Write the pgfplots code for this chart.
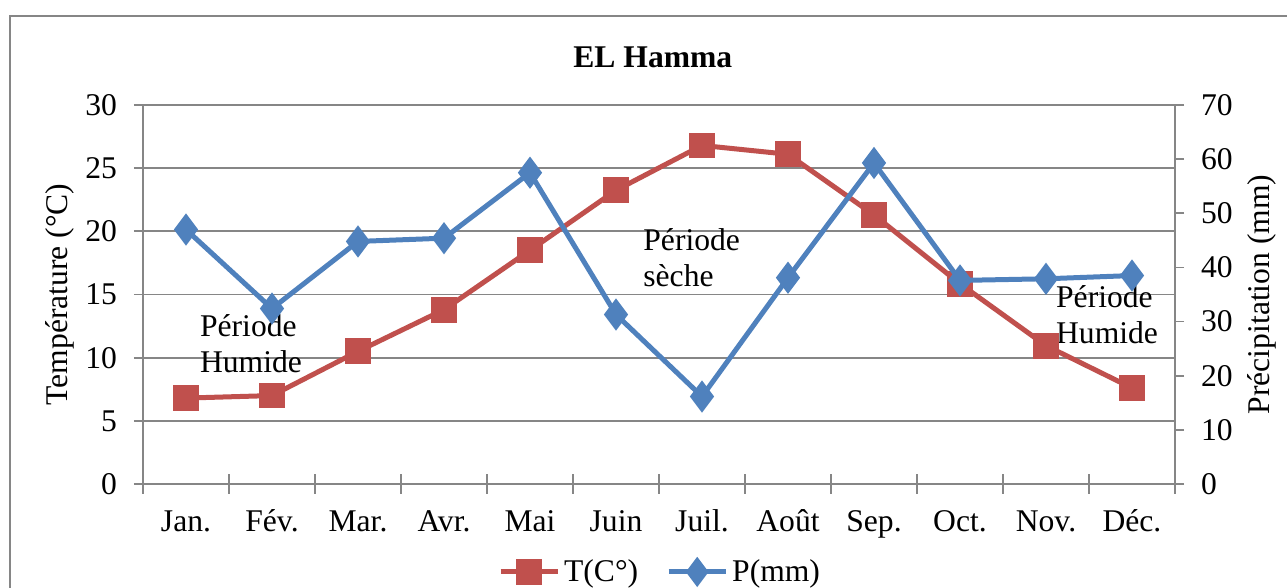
\documentclass[border=0pt]{standalone}
\usepackage{fontspec}
\setmainfont{Liberation Serif}
\usepackage{pgfplots}
\pgfplotsset{compat=1.18}
\definecolor{tred}{HTML}{C0504D}
\definecolor{pblue}{HTML}{4F81BD}
\definecolor{gridgray}{HTML}{868686}
\pgfplotsset{
  common/.style={
    at={(71.5pt,52pt)}, anchor=south west, scale only axis,
    width=516pt, height=189.5pt,
    xmin=-0.5, xmax=11.5, ymin=0,
    every tick label/.append style={font=\fontsize{15.8}{18}\selectfont},
    /pgf/number format/assume math mode=true,
    axis line style={gridgray, line width=0.9pt},
    every tick/.style={gridgray, line width=0.9pt},
  }
}
\begin{document}
\begin{tikzpicture}[x=1pt,y=1pt]
\useasboundingbox (0,0) rectangle (643.5,294);
\draw[gridgray, line width=1pt] (5,-10) rectangle (660,286);
\begin{axis}[common,
  ymax=30,
  axis x line*=bottom, axis y line*=left,
  xtick={0,...,11},
  xticklabels={Jan.,Fév.,Mar.,Avr.,Mai,Juin,Juil.,Août,Sep.,Oct.,Nov.,Déc.},
  xticklabel style={text height=11pt, text depth=3.5pt, yshift=-4.5pt},
  yticklabel style={xshift=-5pt},
  major x tick style={draw=none},
  minor xtick={-0.5,0.5,...,11.5},
  minor tick length=9.75pt,
  ytick={0,5,...,30},
  major tick length=9pt,
  tick align=center,
  ymajorgrids, grid style={gridgray, line width=0.9pt},
  ylabel={Température (°C)},
  every axis y label/.style={at={(axis description cs:-0.0804,0.5)}, rotate=90, anchor=center, font=\fontsize{15.8}{18}\selectfont},
  legend columns=2,
  legend style={draw=none, fill=none, at={(0.502,-0.232)}, anchor=center,
    font=\fontsize{15.8}{18}\selectfont,
    /tikz/every even column/.append style={column sep=12pt}},
  legend image code/.code={\draw[mark repeat=2,mark phase=2] plot coordinates {(0pt,0pt)(14.25pt,0pt)(28.5pt,0pt)};},
  clip=false,
]
\addplot[tred, line width=2.5pt, mark=square*, mark size=5.2pt, mark options={solid}]
  coordinates {(0,6.8)(1,7.0)(2,10.5)(3,13.8)(4,18.5)(5,23.25)(6,26.8)(7,26.1)(8,21.3)(9,15.85)(10,10.95)(11,7.6)};
\addlegendentry{T(C°)}
\addlegendimage{pblue, line width=2.5pt, mark=diamond*, mark size=5.5pt}
\addlegendentry{P(mm)}
\node[font=\fontsize{15.8}{18}\selectfont\bfseries] at (axis description cs:0.494,1.1266) {EL Hamma};
\node[font=\fontsize{15.8}{18}\selectfont, align=left] at (axis cs:0.756,11.1) {Période\\Humide};
\node[font=\fontsize{15.8}{18}\selectfont, align=left] at (axis cs:5.88,17.9) {Période\\sèche};
\node[font=\fontsize{15.8}{18}\selectfont, align=left] at (axis cs:10.71,13.4) {Période\\Humide};
\end{axis}
\begin{axis}[common,
  ymax=70,
  axis x line=none, axis y line*=right,
  ytick={0,10,...,70},
  yticklabel style={xshift=5pt},
  tick align=outside, major tick length=4.5pt,
  ylabel={Précipitation (mm)},
  every axis y label/.style={at={(axis description cs:1.0843,0.5)}, rotate=90, anchor=center, font=\fontsize{15.8}{18}\selectfont},
  clip=false,
]
\addplot[pblue, line width=2.5pt, mark=diamond*, mark size=6pt]
  coordinates {(0,47.0)(1,32.4)(2,44.8)(3,45.4)(4,57.5)(5,31.3)(6,16.15)(7,38.1)(8,59.3)(9,37.6)(10,37.9)(11,38.5)};
\end{axis}
\end{tikzpicture}
\end{document}
